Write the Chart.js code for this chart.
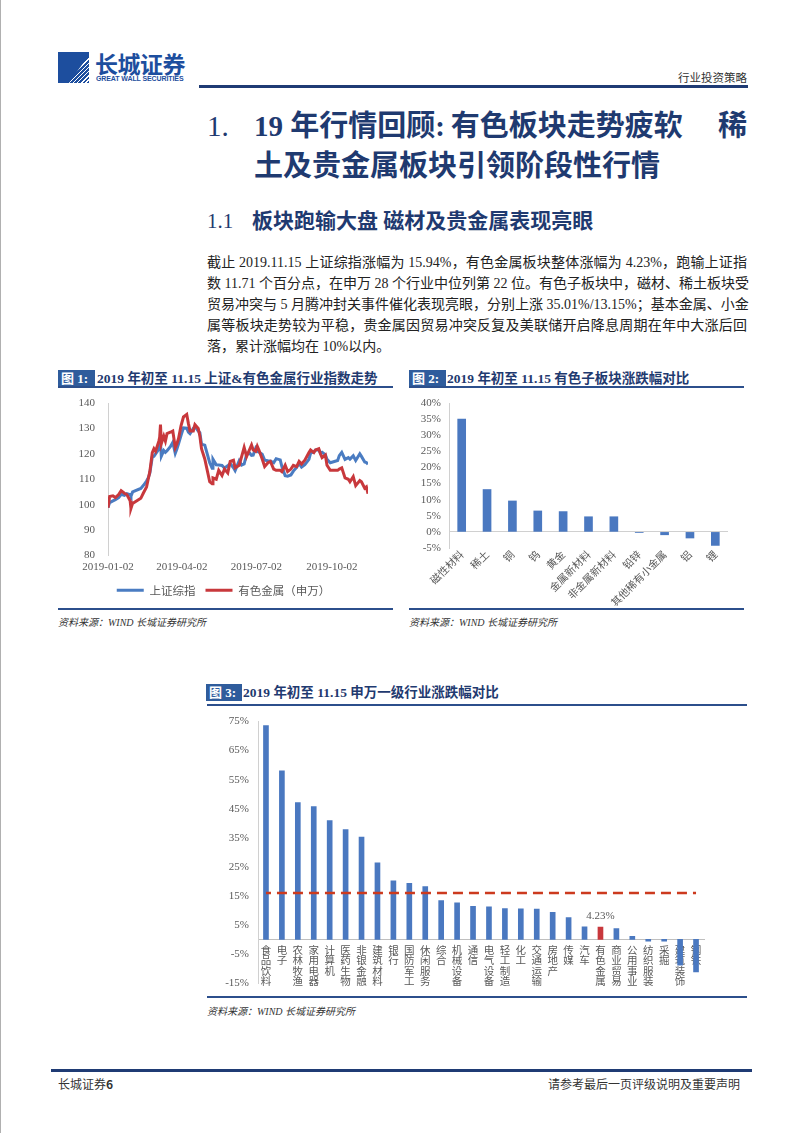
<!DOCTYPE html>
<html>
<head>
<meta charset="utf-8">
<script src="https://cdn.jsdelivr.net/npm/chart.js@4.4.1/dist/chart.umd.min.js"></script>
<style>
  body { margin: 0; background: #fff; }
  #page { position: relative; width: 802px; height: 1133px; overflow: hidden; background: #fff;
          font-family: "Liberation Serif", "Noto Sans CJK SC", serif; color: #222; }
  .abs { position: absolute; white-space: nowrap; }
  .navy { color: #1f3a70; }
  .rule { position: absolute; background: #2c4f8c; }
  .figbox { position: absolute; height: 17px; background: #2f5c9c; color: #fff; font-weight: bold;
            font-size: 13px; line-height: 17px; padding-left: 3px; }
  .figtitle { position: absolute; font-weight: bold; font-size: 13.5px; line-height: 17px; color: #1f3a70; white-space: nowrap; }
  .src { position: absolute; font-size: 10px; font-style: italic; color: #333; white-space: nowrap; }
  .body-line { position: absolute; left: 207px; width: 540px; font-size: 14px; line-height: 21px; height: 21px;
               text-align: justify; text-align-last: justify; white-space: nowrap; color: #222; }
  canvas { position: absolute; }
</style>
</head>
<body>
<div id="page">
  <div style="position:absolute;left:0;top:0;width:1px;height:1133px;background:#b0b0b0;"></div>

  <!-- logo -->
  <div style="position:absolute;left:58px;top:52px;width:31px;height:31px;background:#1d4e9e;overflow:hidden;">
    <div style="position:absolute;left:0;top:0;width:31px;height:31px;clip-path:polygon(35% 100%,100% 10%,100% 100%);
      background:repeating-linear-gradient(135deg,rgba(255,255,255,0) 0 2px,#fff 2px 3px);"></div>
  </div>
  <div class="abs" style="left:95px;top:46px;font-size:23px;font-weight:bold;color:#1d4e9e;font-family:'Noto Sans CJK SC';letter-spacing:-0.5px;">长城证券</div>
  <div class="abs" style="left:96px;top:75px;font-size:7px;font-weight:bold;color:#1d4e9e;font-family:'Liberation Sans';letter-spacing:-0.1px;">GREAT WALL SECURITIES</div>

  <div class="abs" style="right:55px;top:69px;font-size:11.5px;color:#333;font-family:'Noto Sans CJK SC';">行业投资策略</div>
  <div class="rule" style="left:199px;top:85px;width:549px;height:3px;background:#1f3b74;"></div>

  <!-- titles -->
  <div class="abs navy" style="left:207px;top:108px;font-size:29px;line-height:36px;">1.</div>
  <div class="abs navy" style="left:254px;top:108px;font-size:29px;line-height:36px;font-weight:bold;">19 年行情回顾:&thinsp;有色板块走势疲软</div>
  <div class="abs navy" style="right:55px;top:108px;font-size:29px;line-height:36px;font-weight:bold;">稀</div>
  <div class="abs navy" style="left:254px;top:148px;font-size:29px;line-height:36px;font-weight:bold;">土及贵金属板块引领阶段性行情</div>

  <div class="abs navy" style="left:207px;top:207px;font-size:21px;line-height:28px;">1.1</div>
  <div class="abs navy" style="left:252px;top:207px;font-size:21px;line-height:28px;font-weight:bold;">板块跑输大盘 磁材及贵金属表现亮眼</div>

  <!-- body -->
  <div class="body-line" style="top:252px;">截止 2019.11.15 上证综指涨幅为 15.94%，有色金属板块整体涨幅为 4.23%，跑输上证指</div>
  <div class="body-line" style="top:273px;">数 11.71 个百分点，在申万 28 个行业中位列第 22 位。有色子板块中，磁材、稀土板块受</div>
  <div class="body-line" style="top:294px;">贸易冲突与 5 月腾冲封关事件催化表现亮眼，分别上涨 35.01%/13.15%；基本金属、小金</div>
  <div class="body-line" style="top:315px;">属等板块走势较为平稳，贵金属因贸易冲突反复及美联储开启降息周期在年中大涨后回</div>
  <div class="body-line" style="top:336px;text-align-last:left;">落，累计涨幅均在 10%以内。</div>

  <!-- figure 1 -->
  <div class="figbox" style="left:58px;top:370px;width:34px;">图 1:</div>
  <div class="figtitle" style="left:97px;top:370px;">2019 年初至 11.15 上证&amp;有色金属行业指数走势</div>
  <div class="rule" style="left:58px;top:386px;width:335px;height:2px;"></div>
  <canvas id="c1" width="336" height="214" style="left:57px;top:392px;"></canvas>
  <div class="rule" style="left:58px;top:608px;width:335px;height:2px;"></div>
  <div class="src" style="left:58px;top:614px;">资料来源：WIND 长城证券研究所</div>

  <!-- figure 2 -->
  <div class="figbox" style="left:409px;top:370px;width:34px;">图 2:</div>
  <div class="figtitle" style="left:447px;top:370px;">2019 年初至 11.15 有色子板块涨跌幅对比</div>
  <div class="rule" style="left:409px;top:386px;width:335px;height:2px;"></div>
  <canvas id="c2" width="342" height="214" style="left:408px;top:392px;"></canvas>
  <div class="rule" style="left:409px;top:608px;width:335px;height:2px;"></div>
  <div class="src" style="left:409px;top:614px;">资料来源：WIND 长城证券研究所</div>

  <!-- figure 3 -->
  <div class="figbox" style="left:206px;top:684px;width:33px;">图 3:</div>
  <div class="figtitle" style="left:243px;top:684px;">2019 年初至 11.15 申万一级行业涨跌幅对比</div>
  <div class="rule" style="left:207px;top:704px;width:540px;height:2px;"></div>
  <canvas id="c3" width="543" height="282" style="left:207px;top:708px;"></canvas>
  <div class="rule" style="left:207px;top:996px;width:540px;height:2px;"></div>
  <div class="src" style="left:207px;top:1003px;">资料来源：WIND 长城证券研究所</div>

  <!-- footer -->
  <div class="rule" style="left:51px;top:1069px;width:701px;height:3px;background:#1f3b74;"></div>
  <div class="abs" style="left:58px;top:1075px;font-size:12px;font-family:'Noto Sans CJK SC';color:#333;">长城证券<b>6</b></div>
  <div class="abs" style="right:62px;top:1075px;font-size:12px;font-family:'Noto Sans CJK SC';color:#333;">请参考最后一页评级说明及重要声明</div>
</div>

<script>
// ---- chart 1: index trend (rebased, 2018-12-31 = 100)
const dates1 = ['2019-01-02','2019-01-04','2019-01-08','2019-01-11','2019-01-15','2019-01-18','2019-01-22','2019-01-25',
  '2019-01-29','2019-01-30','2019-02-01','2019-02-11','2019-02-14','2019-02-18','2019-02-20','2019-02-22','2019-02-25',
  '2019-02-27','2019-03-01','2019-03-05','2019-03-06','2019-03-07','2019-03-08','2019-03-11','2019-03-13','2019-03-15',
  '2019-03-19','2019-03-22','2019-03-25','2019-03-27','2019-03-29','2019-04-01','2019-04-04','2019-04-08','2019-04-10',
  '2019-04-12','2019-04-16','2019-04-18','2019-04-22','2019-04-24','2019-04-26','2019-04-30','2019-05-06','2019-05-09',
  '2019-05-10','2019-05-14','2019-05-17','2019-05-21','2019-05-24','2019-05-28','2019-05-31','2019-06-04','2019-06-06',
  '2019-06-11','2019-06-14','2019-06-17','2019-06-20','2019-06-24','2019-06-26','2019-06-28','2019-07-01','2019-07-03',
  '2019-07-05','2019-07-09','2019-07-12','2019-07-16','2019-07-19','2019-07-23','2019-07-26','2019-07-31','2019-08-02',
  '2019-08-06','2019-08-09','2019-08-13','2019-08-16','2019-08-20','2019-08-23','2019-08-26','2019-08-30','2019-09-04',
  '2019-09-06','2019-09-10','2019-09-12','2019-09-16','2019-09-18','2019-09-20','2019-09-24','2019-09-26','2019-09-30',
  '2019-10-09','2019-10-11','2019-10-14','2019-10-18','2019-10-22','2019-10-24','2019-10-28','2019-10-31','2019-11-05',
  '2019-11-07','2019-11-11','2019-11-13','2019-11-15'];
const shIndex = [98.9,100.8,101.5,102.0,102.8,104.1,103.7,104.3,103.9,103.3,105.0,106.4,107.5,109.3,110.5,112.4,118.7,
  119.0,120.0,121.8,123.5,124.5,119.1,121.3,120.6,121.2,122.8,124.5,120.2,121.9,123.9,127.2,130.2,130.1,128.5,
  127.9,130.0,130.8,129.0,128.3,123.8,123.4,116.5,114.3,117.9,115.7,115.6,115.4,114.4,115.3,116.2,114.5,113.4,
  117.3,115.6,116.0,119.8,120.2,119.4,119.5,122.1,120.9,120.7,119.8,117.5,117.3,117.2,116.5,118.1,117.6,115.0,
  111.4,111.2,111.7,113.2,114.7,116.2,114.8,115.7,117.8,120.3,120.8,121.5,121.5,120.3,120.6,119.7,117.9,116.5,
  117.4,119.3,120.6,117.8,118.5,117.9,119.2,117.4,120.0,119.0,116.8,116.6,115.9];
const nfIndex = [98.8,103.2,103.5,102.8,104.0,105.5,104.5,104.0,101.5,98.5,100.5,102.5,104.5,107.0,110.0,113.0,120.5,
  122.0,121.0,125.0,126.5,131.5,124.0,127.0,125.0,128.0,128.5,129.0,122.5,124.0,126.0,131.0,134.5,135.5,132.0,
  129.0,129.0,131.5,130.0,127.0,122.0,118.0,109.0,108.2,110.5,110.0,113.5,111.5,114.0,112.5,117.0,117.5,114.5,
  115.5,119.0,122.5,119.0,122.0,123.5,121.5,121.0,123.0,121.5,118.0,115.0,116.5,117.0,114.0,113.5,113.5,113.0,
  115.5,113.0,114.0,115.5,115.0,117.0,116.0,117.5,120.5,121.5,120.5,121.5,122.0,120.0,118.5,119.5,115.5,113.5,
  113.5,114.0,114.5,110.5,110.0,109.0,111.0,107.5,109.5,109.0,106.5,107.0,104.3];
const tickDates1 = ['2019-01-02','2019-04-02','2019-07-02','2019-10-02'];
const seriesNames1 = ['上证综指', '有色金属（申万）'];

// ---- chart 2: non-ferrous sub-sectors
const subSectors = ['磁性材料','稀土','铜','钨','黄金','金属新材料','非金属新材料','铅锌','其他稀有小金属','铝','锂'];
const subChanges = [35.01, 13.15, 9.6, 6.5, 6.3, 4.7, 4.7, -0.2, -0.9, -1.9, -4.2];

// ---- chart 3: SW level-1 industries
const industries = ['食品饮料','电子','农林牧渔','家用电器','计算机','医药生物','非银金融','建筑材料','银行','国防军工',
  '休闲服务','综合','机械设备','通信','电气设备','轻工制造','化工','交通运输','房地产','传媒','汽车','有色金属',
  '商业贸易','公用事业','纺织服装','采掘','建筑装饰','钢铁'];
const industryChanges = [73.6, 58.0, 47.1, 45.7, 40.9, 37.8, 35.2, 26.4, 20.2, 19.3, 18.2, 13.4, 12.6, 11.4, 11.2,
  10.6, 10.5, 10.4, 9.3, 7.5, 4.3, 4.23, 3.7, 1.1, -0.6, -0.6, -8.9, -11.2];
const shanghaiChange = 15.94;
const highlightIndustry = '有色金属';

const BLUE = '#4a7cc2';
const RED = '#c8383c';
const BAR_BLUE = '#4a78c0';
const TICK_GRAY = '#595959';
const AXIS_GRAY = '#d0d0d0';
const SERIF = '"Liberation Serif", "Noto Sans CJK SC", serif';
const CJK = '"Noto Sans CJK SC", sans-serif';

function dayOffset(s) {
  return Math.round((Date.parse(s) - Date.parse(dates1[0])) / 86400000);
}
const days1 = dates1.map(dayOffset);
const tickDays1 = tickDates1.map(dayOffset);

// keep plot area where layout.padding puts it (tick labels may overhang)
function noPad(s) {
  s.paddingTop = 0; s.paddingBottom = 0; s.paddingLeft = 0; s.paddingRight = 0;
}

new Chart(document.getElementById('c1'), {
  type: 'line',
  data: {
    datasets: [
      { label: seriesNames1[0], data: days1.map((d, i) => ({ x: d, y: shIndex[i] })), borderColor: BLUE,
        backgroundColor: BLUE, borderWidth: 3, pointRadius: 0, tension: 0, order: 2 },
      { label: seriesNames1[1], data: days1.map((d, i) => ({ x: d, y: nfIndex[i] })), borderColor: RED,
        backgroundColor: RED, borderWidth: 3, pointRadius: 0, tension: 0, order: 1 }
    ]
  },
  options: {
    responsive: false, animation: false,
    layout: { padding: { top: 11, right: 25, bottom: 0, left: 22 } },
    plugins: {
      tooltip: { enabled: false },
      legend: {
        position: 'bottom',
        labels: { usePointStyle: true, pointStyle: 'line', pointStyleWidth: 27, boxHeight: 11,
                  color: TICK_GRAY, font: { family: CJK, size: 11.5 }, padding: 10,
                  sort: (a, b) => a.datasetIndex - b.datasetIndex }
      }
    },
    scales: {
      x: {
        type: 'linear', min: 0, max: days1[days1.length - 1],
        grid: { display: false, drawTicks: false }, border: { display: false },
        afterBuildTicks: s => { s.ticks = tickDays1.map(v => ({ value: v })); },
        ticks: { autoSkip: false, maxRotation: 0, padding: 5, color: TICK_GRAY, font: { family: SERIF, size: 11 },
                 callback: v => tickDates1[tickDays1.indexOf(v)] },
        afterFit: s => { s.height = 19; noPad(s); }
      },
      y: {
        min: 80, max: 140,
        ticks: { stepSize: 10, autoSkip: false, padding: 13, color: TICK_GRAY, font: { family: SERIF, size: 11 } },
        grid: { display: false, drawTicks: false }, border: { color: AXIS_GRAY },
        afterFit: s => { s.width = 29; noPad(s); }
      }
    }
  }
});

new Chart(document.getElementById('c2'), {
  type: 'bar',
  data: { labels: subSectors, datasets: [{ data: subChanges, backgroundColor: BAR_BLUE, barThickness: 8 }] },
  options: {
    responsive: false, animation: false,
    layout: { padding: { top: 11, right: 22, bottom: 0, left: 0 } },
    plugins: { legend: { display: false }, tooltip: { enabled: false } },
    scales: {
      x: {
        grid: { display: false, drawTicks: false }, border: { display: false },
        ticks: { autoSkip: false, minRotation: 45, maxRotation: 45, padding: 0, color: TICK_GRAY,
                 font: { family: CJK, size: 10.5 } },
        afterFit: s => { s.height = 58; noPad(s); }
      },
      y: {
        min: -5, max: 40,
        ticks: { stepSize: 5, autoSkip: false, padding: 8, color: TICK_GRAY, font: { family: SERIF, size: 11 },
                 callback: v => v + '%' },
        grid: { drawTicks: false, color: c => (c.tick && c.tick.value === 0 ? AXIS_GRAY : 'rgba(0,0,0,0)') },
        border: { color: AXIS_GRAY },
        afterFit: s => { s.width = 41; noPad(s); }
      }
    }
  }
});

const valueLabel = {
  id: 'valueLabel',
  afterDatasetsDraw(chart) {
    const i = industries.indexOf(highlightIndustry);
    const bar = chart.getDatasetMeta(1).data[i];
    const ctx = chart.ctx;
    ctx.save();
    ctx.fillStyle = TICK_GRAY;
    ctx.font = '11px ' + SERIF;
    ctx.textAlign = 'center';
    ctx.textBaseline = 'bottom';
    ctx.fillText(industryChanges[i].toFixed(2) + '%', bar.x, bar.y - 6);
    ctx.restore();
  }
};

new Chart(document.getElementById('c3'), {
  type: 'bar',
  data: {
    labels: industries.map(s => s.split('')),
    datasets: [
      { type: 'line', data: industries.map(() => shanghaiChange), borderColor: '#cc3a1e', borderWidth: 2.5,
        borderDash: [10, 6], borderDashOffset: 5, pointRadius: 0, order: 0 },
      { data: industryChanges, barThickness: 5, order: 1,
        backgroundColor: industries.map(s => (s === highlightIndustry ? RED : BAR_BLUE)) }
    ]
  },
  options: {
    responsive: false, animation: false,
    layout: { padding: { top: 13.5, right: 46, bottom: 7, left: 0 } },
    plugins: { legend: { display: false }, tooltip: { enabled: false } },
    scales: {
      x: {
        position: { y: 0 },
        grid: { display: false, drawTicks: false }, border: { color: '#bfbfbf' },
        ticks: { autoSkip: false, minRotation: 0, maxRotation: 0, padding: 5, color: TICK_GRAY,
                 font: { family: CJK, size: 10.5, lineHeight: 1.0 } },
        afterFit: s => { s.height = 0; noPad(s); }
      },
      y: {
        min: -15, max: 75,
        ticks: { stepSize: 10, autoSkip: false, padding: 9, color: TICK_GRAY, font: { family: SERIF, size: 11 },
                 callback: v => v + '%' },
        grid: { display: false, drawTicks: false }, border: { color: AXIS_GRAY },
        afterFit: s => { s.width = 51; noPad(s); }
      }
    }
  },
  plugins: [valueLabel]
});
</script>
</body>
</html>
